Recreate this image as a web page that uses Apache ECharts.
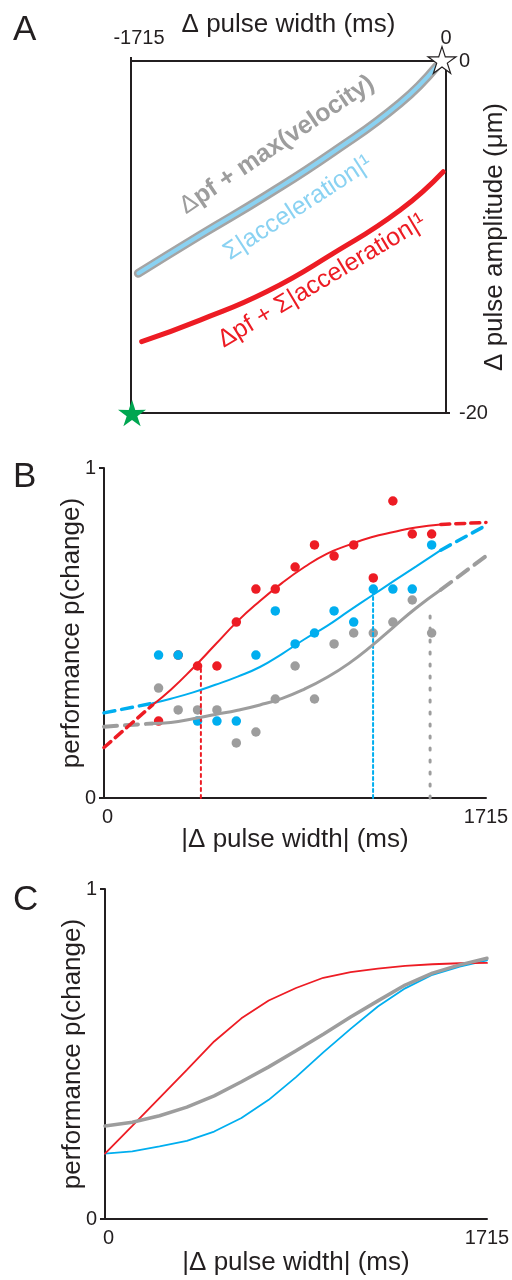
<!DOCTYPE html>
<html>
<head>
<meta charset="utf-8">
<script src="https://cdn.jsdelivr.net/npm/echarts@6/dist/echarts.min.js"></script>
<style>
  html, body { margin: 0; padding: 0; background: #fff; }
  #main { width: 512px; height: 1280px; }
</style>
</head>
<body>
<div id="main"></div>
<script>
// ---- panel A : iso-performance curves in (pulse width, pulse amplitude) space
const aGrayX = [-1675, -1339, -975, -614, -251, -51];
const aGrayY = [-12.06, -9.9, -7.62, -5.17, -2.4, -0.3];
const aRedX = [-1657, -1339, -975, -614, -251, -15];
const aRedY = [-15.95, -14.72, -13.1, -10.93, -8.48, -6.29];
const aStartPt = [0, 0];
const aEndPt = [-1715, -20];

// ---- panel B : measured performance per bin + fitted curves
const binX = [245, 333, 420, 507, 594, 682, 769, 858, 945, 1033, 1121, 1209, 1297, 1384, 1471];
const redPts = [0.233, 0.433, 0.4, 0.4, 0.533, 0.633, 0.633, 0.7, 0.767, 0.733, 0.767, 0.667, 0.9, 0.8, 0.8];
const bluePts = [0.433, 0.433, 0.233, 0.233, 0.233, 0.433, 0.567, 0.467, 0.5, 0.567, 0.533, 0.633, 0.633, 0.633, 0.767];
const grayPts = [0.333, 0.267, 0.267, 0.267, 0.167, 0.2, 0.3, 0.4, 0.3, 0.467, 0.5, 0.5, 0.533, 0.6, 0.5];

const fitX = [218, 300, 400, 500, 600, 700, 800, 900, 1000, 1100, 1200, 1300, 1400, 1512];
const redFit = [0.282, 0.328, 0.394, 0.465, 0.536, 0.597, 0.652, 0.70, 0.74, 0.767, 0.79, 0.806, 0.82, 0.829];
const blueFit = [0.287, 0.301, 0.32, 0.343, 0.368, 0.397, 0.437, 0.481, 0.521, 0.567, 0.612, 0.657, 0.701, 0.751];
const grayFit = [0.226, 0.229, 0.24, 0.253, 0.266, 0.282, 0.302, 0.33, 0.365, 0.408, 0.46, 0.518, 0.575, 0.631];

// dashed extrapolation
const tailLX = [0, 218];
const tailRX = [1512, 1715];
const redTailL = [0.153, 0.282], redTailR = [0.829, 0.835];
const blueTailL = [0.258, 0.287], blueTailR = [0.751, 0.826];
const grayTailL = [0.216, 0.226], grayTailR = [0.631, 0.733];

// dotted drop lines
const dropX = [435, 1208, 1464];
const dropTop = [0.398, 0.625, 0.576];

// ---- panel C : model curves
const cX = [0, 122.5, 245, 367.5, 490, 612.5, 735, 857.5, 980, 1102.5, 1225, 1347.5, 1470, 1592.5, 1715];
const cRed = [0.198, 0.282, 0.367, 0.452, 0.538, 0.608, 0.662, 0.70, 0.731, 0.748, 0.759, 0.767, 0.772, 0.775, 0.776];
const cBlue = [0.198, 0.205, 0.22, 0.237, 0.265, 0.306, 0.361, 0.43, 0.505, 0.576, 0.644, 0.699, 0.74, 0.765, 0.784];
const cGray = [0.282, 0.293, 0.313, 0.339, 0.373, 0.416, 0.461, 0.51, 0.56, 0.612, 0.661, 0.709, 0.745, 0.77, 0.79];

const RED = '#ed1c24', BLUE = '#00aeef', LBLUE = '#8ad2f2', GRAY = '#9d9d9d', GREEN = '#00a651', INK = '#231f20';
const FONT = 'Liberation Sans, Arial, sans-serif';
const STAR = 'path://M50 0 L61.17 34.63 L97.55 34.55 L68.07 55.87 L79.39 90.45 L50 69 L20.61 90.45 L31.93 55.87 L2.45 34.55 L38.83 34.63 Z';

const zip = (xs, ys) => xs.map((x, i) => [x, ys[i]]);

function lineS(xi, data, color, width, type, smooth) {
  return {
    type: 'line', xAxisIndex: xi, yAxisIndex: xi, data: data,
    symbol: 'none', smooth: smooth || false, silent: true, clip: false,
    lineStyle: { color: color, width: width, type: type || 'solid', cap: 'round' }
  };
}
function dotsS(data, color) {
  return {
    type: 'scatter', xAxisIndex: 1, yAxisIndex: 1, data: data,
    symbolSize: 9.5, itemStyle: { color: color, opacity: 1 }, silent: true
  };
}

const labelStyle = { color: INK, fontSize: 20, fontFamily: FONT };
const nameStyle = { color: INK, fontSize: 26, fontFamily: FONT };
const lineAx = { show: true, lineStyle: { color: INK, width: 2 } };

function perfX(idx, gap) {
  return {
    gridIndex: idx, type: 'value', min: 0, max: 1715, interval: 1715,
    name: '|\u0394 pulse width| (ms)', nameLocation: 'middle', nameGap: gap, nameMoveOverlap: false,
    nameTextStyle: nameStyle,
    axisLine: lineAx, axisTick: { show: false }, splitLine: { show: false },
    axisLabel: Object.assign({ margin: 9, showMinLabel: true, showMaxLabel: true,
      formatter: v => v === 0 ? '{a|0}' : String(v),
      rich: { a: { fontSize: 20, fontFamily: FONT, color: INK, padding: [0, 0, 0, 7] } } }, labelStyle)
  };
}
function perfY(idx) {
  return {
    gridIndex: idx, type: 'value', min: 0, max: 1, interval: 1,
    name: 'performance p(change)', nameLocation: 'middle', nameGap: 19, nameRotate: 90, nameMoveOverlap: false,
    nameTextStyle: nameStyle,
    axisLine: lineAx, axisTick: { show: true, length: 5, lineStyle: { color: INK, width: 2 } },
    splitLine: { show: false },
    axisLabel: Object.assign({ margin: 8, showMinLabel: true, showMaxLabel: true }, labelStyle)
  };
}

const chart = echarts.init(document.getElementById('main'), null, { renderer: 'canvas' });

const series = [
  // A
  lineS(0, zip(aGrayX, aGrayY), '#a4a4a4', 9, 'solid', true),
  lineS(0, zip(aGrayX, aGrayY), LBLUE, 4, 'solid', true),
  lineS(0, zip(aRedX, aRedY), RED, 5, 'solid', true),
  { type: 'scatter', xAxisIndex: 0, yAxisIndex: 0, clip: false, silent: true, z: 5,
    symbol: STAR, symbolSize: 28, symbolKeepAspect: true, symbolOffset: [-4, -1],
    itemStyle: { color: '#fff', borderColor: INK, borderWidth: 1.2, opacity: 1 }, data: [aStartPt] },
  { type: 'scatter', xAxisIndex: 0, yAxisIndex: 0, clip: false, silent: true, z: 5,
    symbol: STAR, symbolSize: 28, symbolKeepAspect: true, symbolOffset: [1, 0],
    itemStyle: { color: GREEN, opacity: 1 }, data: [aEndPt] },
  // B drop lines
  lineS(1, [[dropX[0], 0], [dropX[0], dropTop[0]]], RED, 2, [3, 4]),
  lineS(1, [[dropX[1], 0], [dropX[1], dropTop[1]]], BLUE, 2, [3, 3]),
  lineS(1, [[dropX[2], 0], [dropX[2], dropTop[2]]], GRAY, 3, [2, 10]),
  // B tails
  lineS(1, zip(tailLX, grayTailL), GRAY, 4, [13, 8]),
  lineS(1, zip(tailRX, grayTailR), GRAY, 4, [13, 8]),
  lineS(1, zip(tailLX, blueTailL), BLUE, 3.5, [11, 7]),
  lineS(1, zip(tailRX, blueTailR), BLUE, 3.5, [11, 7]),
  lineS(1, zip(tailLX, redTailL), RED, 3.5, [9, 6]),
  lineS(1, zip(tailRX, redTailR), RED, 3.5, [9, 6]),
  // B fits
  lineS(1, zip(fitX, grayFit), GRAY, 3, 'solid', true),
  lineS(1, zip(fitX, blueFit), BLUE, 2, 'solid', true),
  lineS(1, zip(fitX, redFit), RED, 2, 'solid', true),
  // B dots
  dotsS(zip(binX, grayPts), GRAY),
  dotsS(zip(binX, redPts), RED),
  dotsS(zip(binX, bluePts), BLUE),
  // C
  lineS(2, zip(cX, cBlue), BLUE, 1.8),
  lineS(2, zip(cX, cRed), RED, 1.8),
  lineS(2, zip(cX, cGray), GRAY, 3.5)
];

chart.setOption({
  animation: false,
  backgroundColor: '#fff',
  textStyle: { fontFamily: FONT, color: INK },
  grid: [
    { left: 131, top: 61, width: 315, height: 352, show: true, borderColor: INK, borderWidth: 2, outerBoundsMode: 'none', containLabel: false },
    { left: 104, top: 468, width: 382, height: 330, outerBoundsMode: 'none', containLabel: false },
    { left: 105, top: 889, width: 382, height: 330, outerBoundsMode: 'none', containLabel: false }
  ],
  xAxis: [
    { gridIndex: 0, type: 'value', position: 'top', min: -1715, max: 0, interval: 1715,
      name: '\u0394 pulse width (ms)', nameLocation: 'middle', nameGap: 23, nameMoveOverlap: false,
      nameTextStyle: nameStyle,
      axisLine: lineAx, axisTick: { show: true, length: 4, lineStyle: { color: INK, width: 2 } },
      splitLine: { show: false },
      axisLabel: Object.assign({ margin: 13, showMinLabel: true, showMaxLabel: true,
        formatter: v => v === -1715 ? '{a|-1715}' : String(v),
        rich: { a: { fontSize: 20, fontFamily: FONT, color: INK, padding: [0, 0, 0, 16] } } }, labelStyle) },
    perfX(1, 29), perfX(2, 31)
  ],
  yAxis: [
    { gridIndex: 0, type: 'value', position: 'right', min: -20, max: 0, interval: 20,
      name: '\u0394 pulse amplitude (\u03bcm)', nameLocation: 'middle', nameGap: 36, nameRotate: 90,
      nameMoveOverlap: false, nameTextStyle: nameStyle,
      axisLine: lineAx, axisTick: { show: true, length: 4, lineStyle: { color: INK, width: 2 } },
      splitLine: { show: false },
      axisLabel: Object.assign({ margin: 13, showMinLabel: true, showMaxLabel: true }, labelStyle) },
    perfY(1), perfY(2)
  ],
  graphic: [
    { type: 'text', left: 13, top: 13, style: { text: 'A', fontSize: 35, fontFamily: FONT, fill: INK } },
    { type: 'text', left: 13, top: 460, style: { text: 'B', fontSize: 35, fontFamily: FONT, fill: INK } },
    { type: 'text', left: 13, top: 883, style: { text: 'C', fontSize: 35, fontFamily: FONT, fill: INK } },
    { type: 'text', x: 277, y: 145, rotation: 34 * Math.PI / 180,
      style: { text: '{d|\u0394}pf + max(velocity)', fontSize: 25, fontWeight: 'bold', fontFamily: FONT,
        fill: GRAY, align: 'center', verticalAlign: 'middle',
        rich: { d: { fontSize: 25, fontWeight: 'normal', fontFamily: FONT, fill: GRAY } } } },
    { type: 'text', x: 298, y: 208, rotation: 33 * Math.PI / 180,
      style: { text: '\u03a3|acceleration|\u00b9', fontSize: 25, fontFamily: FONT,
        fill: LBLUE, align: 'center', verticalAlign: 'middle' } },
    { type: 'text', x: 322, y: 281, rotation: 31 * Math.PI / 180,
      style: { text: '\u0394pf + \u03a3|acceleration|\u00b9', fontSize: 25, fontFamily: FONT,
        fill: RED, align: 'center', verticalAlign: 'middle' } }
  ],
  series: series
});
</script>
</body>
</html>
